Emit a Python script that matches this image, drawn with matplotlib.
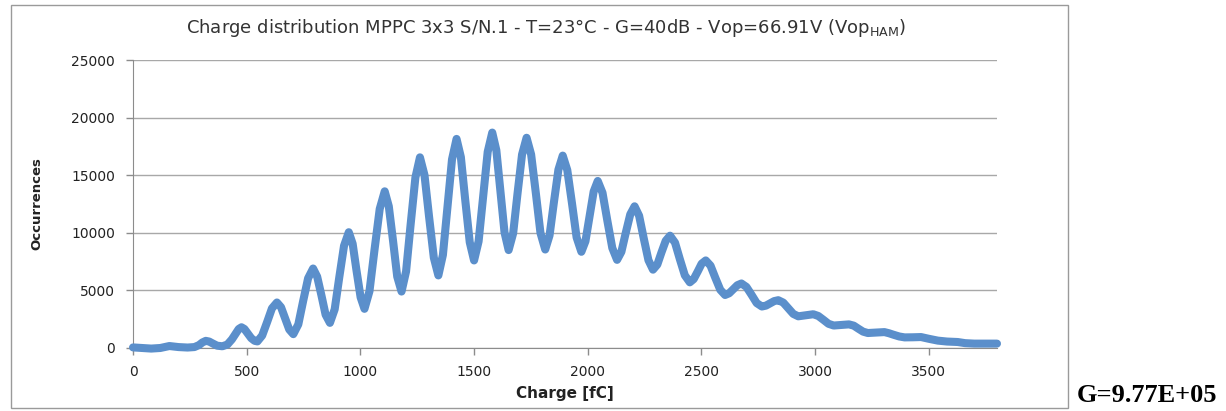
import matplotlib.pyplot as plt
from matplotlib.patches import Rectangle

plt.rcParams["font.family"] = "DejaVu Sans"
plt.rcParams["mathtext.default"] = "regular"

# charge histogram of the MPPC (fC vs counts), read peak by peak
charge_fc = [
    0, 40, 80, 120, 160, 200, 240, 270, 290, 305, 320, 335, 350, 370, 393, 415,
    435, 455, 465, 477, 490, 505, 520, 535, 547,
    568, 590, 611, 633, 651, 669, 687, 705,
    727, 748, 770, 792, 810, 829, 847, 866,
    887, 907, 928, 949, 966, 983, 1001, 1018,
    1040, 1062, 1085, 1107, 1125, 1144, 1162, 1181,
    1201, 1221, 1242, 1262, 1282, 1302, 1323, 1343,
    1363, 1383, 1403, 1423, 1442, 1461, 1481, 1500,
    1520, 1540, 1560, 1580, 1598, 1616, 1634, 1652,
    1672, 1691, 1711, 1731, 1751, 1772, 1792, 1813,
    1832, 1851, 1871, 1890, 1910, 1931, 1951, 1972,
    1990, 2008, 2026, 2044, 2065, 2086, 2108, 2129,
    2148, 2167, 2187, 2206, 2226, 2246, 2267, 2287,
    2306, 2324, 2343, 2362, 2384, 2405, 2427, 2449,
    2466, 2484, 2501, 2519, 2540, 2561, 2583, 2604,
    2622, 2640, 2658, 2676, 2698, 2721, 2743, 2766,
    2784, 2802, 2820, 2838, 2860, 2882, 2904, 2926,
    2959, 2992, 3014, 3037, 3059, 3082,
    3115, 3149, 3170, 3190, 3211, 3232,
    3270, 3305, 3325, 3345, 3370, 3394, 3430, 3466, 3500, 3540, 3580, 3627,
    3660, 3700, 3750, 3800,
]
occurrences = [
    50, 0, -50, 0, 170, 80, 40, 80, 250, 480, 620, 560, 400, 200, 150, 300,
    750, 1350, 1650, 1800, 1650, 1250, 850, 620, 570,
    1080, 2260, 3440, 3950, 3540, 2580, 1610, 1200,
    2050, 4050, 6050, 6900, 6190, 4540, 2890, 2180,
    3360, 6110, 8870, 10050, 9050, 6720, 4400, 3400,
    4930, 8500, 12070, 13600, 12300, 9250, 6200, 4900,
    6650, 10720, 14800, 16550, 15010, 11420, 7840, 6300,
    8080, 12220, 16370, 18150, 16570, 12880, 9180, 7600,
    9260, 13150, 17030, 18700, 17170, 13600, 10030, 8500,
    9960, 13380, 16790, 18250, 16800, 13400, 10000, 8550,
    9770, 12620, 15480, 16700, 15450, 12520, 9600, 8350,
    9270, 11420, 13580, 14500, 13470, 11080, 8680, 7650,
    8350, 9980, 11600, 12300, 11480, 9550, 7620, 6800,
    7240, 8280, 9310, 9750, 9140, 7720, 6310, 5700,
    5980, 6650, 7320, 7600, 7150, 6100, 5050, 4600,
    4750, 5100, 5450, 5600, 5300, 4600, 3900, 3600,
    3680, 3880, 4070, 4150, 3940, 3450, 2960, 2750,
    2840, 2930, 2780, 2440, 2100, 1950,
    2000, 2050, 1940, 1680, 1420, 1300,
    1340, 1380, 1280, 1150, 1000, 920, 930, 950, 800, 640, 560, 520,
    420, 380, 380, 380,
]

x_ticks = [0, 500, 1000, 1500, 2000, 2500, 3000, 3500]
y_ticks = [0, 5000, 10000, 15000, 20000, 25000]

title = "Charge distribution MPPC 3x3 S/N.1 - T=23°C - G=40dB - Vop=66.91V (Vop$_{HAM}$)"
gain_text = "G=9.77E+05"

fig = plt.figure(figsize=(12.26, 4.11), dpi=100)

# chart border
fig.patches.append(Rectangle((0.009, 0.007), 0.862, 0.981, transform=fig.transFigure,
                             fill=False, edgecolor="#9a9a9a", linewidth=1.0))

ax = fig.add_axes([0.1085, 0.1533, 0.7047, 0.7007])
ax.plot(charge_fc, occurrences, color="#5b8fcb", linewidth=5.8,
        solid_capstyle="round", solid_joinstyle="round", clip_on=False, zorder=3)

ax.set_xlim(0, 3800)
ax.set_ylim(0, 25000)
ax.set_xticks(x_ticks)
ax.set_yticks(y_ticks)
ax.grid(axis="y", color="#a8a8a8", linewidth=1.0)
ax.set_axisbelow(True)
for side in ("top", "right"):
    ax.spines[side].set_visible(False)
for side in ("left", "bottom"):
    ax.spines[side].set_color("#8c8c8c")
ax.tick_params(axis="both", colors="#8c8c8c", length=5, width=1.0,
               labelsize=10, labelcolor="#222222")
ax.tick_params(axis="y", pad=8)
ax.tick_params(axis="x", pad=7)

ax.set_xlabel("Charge [fC]", fontsize=11, fontweight="bold", labelpad=5, color="#222222")
ax.set_ylabel("Occurrences", fontsize=9.5, fontweight="bold", labelpad=20, color="#222222")

fig.text(0.4454, 0.932, title, ha="center", va="center", fontsize=13, color="#333333")
fig.text(0.878, 0.022, gain_text, ha="left", va="baseline", fontsize=19,
         fontweight="bold", family="Liberation Serif", color="black")

fig.savefig("out.png", dpi=100)
